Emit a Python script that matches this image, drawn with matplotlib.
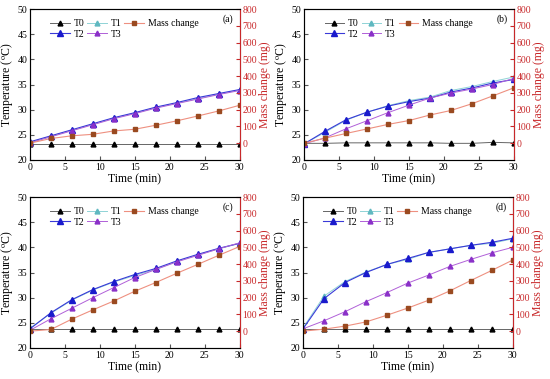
import matplotlib
matplotlib.use('Agg')
import matplotlib.pyplot as plt

plt.rcParams['font.family'] = ['Liberation Serif', 'DejaVu Serif']
plt.rcParams['mathtext.fontset'] = 'stix'

time = [0, 3, 6, 9, 12, 15, 18, 21, 24, 27, 30]
labels = ['(a)', '(b)', '(c)', '(d)']

t0_a = [23.2] * 11
t1_a = [23.5, 24.7, 25.9, 27.1, 28.3, 29.3, 30.4, 31.3, 32.2, 33.1, 33.9]
t2_a = [23.6, 24.8, 26.0, 27.2, 28.4, 29.4, 30.5, 31.4, 32.4, 33.2, 34.0]
t3_a = [23.4, 24.6, 25.8, 27.0, 28.2, 29.2, 30.3, 31.2, 32.1, 33.0, 33.8]
mass_a = [0, 28, 44, 53, 73, 83, 107, 133, 162, 192, 226]

t0_b = [23.3, 23.3, 23.4, 23.4, 23.4, 23.4, 23.4, 23.3, 23.3, 23.5, 23.4]
t1_b = [23.2, 25.5, 27.9, 29.5, 30.8, 31.8, 32.5, 33.8, 34.6, 35.6, 36.5]
t2_b = [23.2, 25.7, 28.0, 29.5, 30.7, 31.6, 32.3, 33.5, 34.3, 35.3, 36.0]
t3_b = [23.2, 24.4, 26.2, 27.8, 29.4, 30.9, 32.3, 33.3, 34.1, 35.0, 36.2]
mass_b = [0, 30, 58, 85, 112, 135, 168, 195, 235, 282, 330]

t0_c = [23.7] * 11
t1_c = [23.9, 26.9, 29.5, 31.5, 33.1, 34.4, 35.6, 37.2, 38.5, 39.7, 40.8]
t2_c = [23.8, 27.0, 29.6, 31.6, 33.2, 34.6, 35.8, 37.3, 38.6, 39.8, 40.8]
t3_c = [23.5, 25.8, 27.9, 30.0, 32.0, 34.0, 35.6, 37.1, 38.4, 39.7, 40.9]
mass_c = [0, 10, 72, 127, 180, 238, 290, 345, 398, 452, 505]

t0_d = [23.7] * 11
t1_d = [24.0, 30.3, 33.2, 35.1, 36.6, 37.6, 39.0, 39.7, 40.4, 40.8, 41.7]
t2_d = [23.8, 29.8, 33.0, 35.0, 36.6, 37.8, 39.0, 39.7, 40.4, 41.0, 41.8]
t3_d = [23.8, 25.4, 27.2, 29.2, 31.0, 32.9, 34.5, 36.2, 37.6, 38.9, 40.0]
mass_d = [0, 12, 30, 55, 95, 138, 185, 240, 302, 362, 424]

panels = [
    (t0_a, t1_a, t2_a, t3_a, mass_a),
    (t0_b, t1_b, t2_b, t3_b, mass_b),
    (t0_c, t1_c, t2_c, t3_c, mass_c),
    (t0_d, t1_d, t2_d, t3_d, mass_d),
]

# axes rectangles in figure fractions (left, bottom, width, height)
boxes = [
    [0.0545, 0.578, 0.381, 0.398],
    [0.553, 0.578, 0.381, 0.398],
    [0.0545, 0.082, 0.381, 0.398],
    [0.551, 0.082, 0.381, 0.398],
]

RED = '#c8282a'


def plot_panel(fig, box, data, label):
    t0, t1, t2, t3, mass = data
    ax = fig.add_axes(box)
    ax2 = ax.twinx()

    l0, = ax.plot(time, t0, '-', color='#666666', lw=0.7, marker='^', ms=3.5,
                  mfc='black', mec='black')
    l1, = ax.plot(time, t1, '-', color='#8fd3d6', lw=0.7, marker='^', ms=3.5,
                  mfc='#5fb8c0', mec='#5fb8c0')
    l2, = ax.plot(time, t2, '-', color='#3a3ad8', lw=0.8, marker='^', ms=4,
                  mfc='#1a1acc', mec='#1a1acc')
    l3, = ax.plot(time, t3, '-', color='#b060d8', lw=0.7, marker='^', ms=3.5,
                  mfc='#8a30c8', mec='#8a30c8')
    lm, = ax2.plot(time, mass, '-', color='#ee9080', lw=0.8, marker='s', ms=3,
                   mfc='#9a4a20', mec='#9a4a20')

    ax.set_xlim(0, 30)
    ax.set_ylim(20, 50)
    ax.set_xticks(range(0, 31, 5))
    ax.set_yticks(range(20, 51, 5))
    ax2.set_ylim(-100, 800)
    ax2.set_yticks(range(0, 801, 100))

    for s in ax.spines.values():
        s.set_color('#555555')
    ax.tick_params(direction='in', labelsize=7, length=3, pad=2,
                   color='#555555')
    ax2.tick_params(direction='in', labelsize=7, length=3, pad=2,
                    colors=RED)
    ax2.spines['right'].set_color(RED)

    ax.set_xlabel('Time (min)', fontsize=8.5, labelpad=1)
    ax.set_ylabel('Temperature ($^{\\rm o}$C)', fontsize=8.5, labelpad=2)
    ax2.set_ylabel('Mass change (mg)', fontsize=8.5, color=RED, labelpad=1.5)

    # columns read T0/T2, T1/T3, Mass change
    ax.legend([l0, l2, l1, l3, lm], ['T0', 'T2', 'T1', 'T3', 'Mass change'],
              ncol=3, loc='upper left', bbox_to_anchor=(0.06, 0.985),
              frameon=False, fontsize=7, handlelength=2.0,
              columnspacing=0.3, handletextpad=0.4, labelspacing=0.15,
              borderpad=0.3)
    ax.text(0.97, 0.935, label, transform=ax.transAxes, ha='right',
            va='center', fontsize=7)


fig = plt.figure(figsize=(5.5, 3.79), dpi=100)
for box, data, label in zip(boxes, panels, labels):
    plot_panel(fig, box, data, label)

fig.savefig('out.png', dpi=100)
